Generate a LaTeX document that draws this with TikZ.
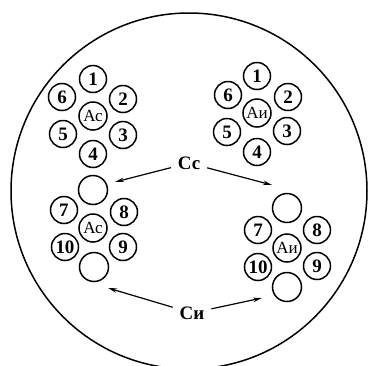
\documentclass[tikz,border=0pt]{standalone}
\usepackage{fontspec}
\setmainfont{Liberation Serif}
\usetikzlibrary{arrows.meta}
\tikzset{
  num/.style={circle,draw,line width=1.5pt,minimum size=27pt,inner sep=0pt,font=\fontsize{19}{19}\selectfont\bfseries},
  ctr/.style={circle,draw,line width=1.5pt,minimum size=28pt,inner sep=0pt,font=\fontsize{17}{17}\selectfont},
  emp/.style={circle,draw,line width=1.5pt,minimum size=29pt,inner sep=0pt},
  lab/.style={inner sep=1pt,font=\fontsize{19}{19}\selectfont\bfseries},
  arr/.style={line width=1.2pt,-{Stealth[length=9pt,width=4.5pt]}}
}
\begin{document}
\begin{tikzpicture}[x=1pt,y=-1pt]
\useasboundingbox (0,0) rectangle (370,365);
\begin{scope}
\clip (0,0) rectangle (370,365);
\draw[line width=1.5pt] (189,191) circle [radius=178];
\end{scope}
% top left
\node[ctr] (tlc) at (93,116) {Ас};
\node[num] (tl1) at (93,79) {1};
\node[num] (tl2) at (123,99) {2};
\node[num] (tl3) at (123,135) {3};
\node[num] (tl4) at (93,154) {4};
\node[num] (tl5) at (63,134) {5};
\node[num] (tl6) at (62,97) {6};
% top right
\node[ctr] (trc) at (257,113) {Аи};
\node[num] (tr1) at (257,76) {1};
\node[num] (tr2) at (288,97) {2};
\node[num] (tr3) at (287,131) {3};
\node[num] (tr4) at (257,152) {4};
\node[num] (tr5) at (227,132) {5};
\node[num] (tr6) at (228,95) {6};
% bottom left
\node[ctr] (blc) at (93,228) {Ас};
\node[emp] (ble1) at (93,190) {};
\node[num] (bl7) at (64,210) {7};
\node[num] (bl8) at (124,212) {8};
\node[num] (bl10) at (65,247) {10};
\node[num] (bl9) at (123,247) {9};
\node[emp] (ble2) at (94,267) {};
% bottom right
\node[ctr] (brc) at (287,248) {Аи};
\node[emp] (bre1) at (287,208) {};
\node[num] (br7) at (258,230) {7};
\node[num] (br8) at (317,230) {8};
\node[num] (br10) at (258,267) {10};
\node[num] (br9) at (317,266) {9};
\node[emp] (bre2) at (287,287) {};
% labels and arrows
\node[lab] (cc) at (189,163) {Сс};
\node[lab] (ci) at (192,313) {Си};
\coordinate (a1) at (115,182);
\coordinate (a2) at (272,185);
\coordinate (a3) at (108,288);
\coordinate (a4) at (262,298);
\draw[arr,shorten <=6pt] (cc) -- (a1);
\draw[arr,shorten <=6pt] (cc) -- (a2);
\draw[arr,shorten <=6pt] (ci) -- (a3);
\draw[arr,shorten <=6pt] (ci) -- (a4);
\end{tikzpicture}
\end{document}
